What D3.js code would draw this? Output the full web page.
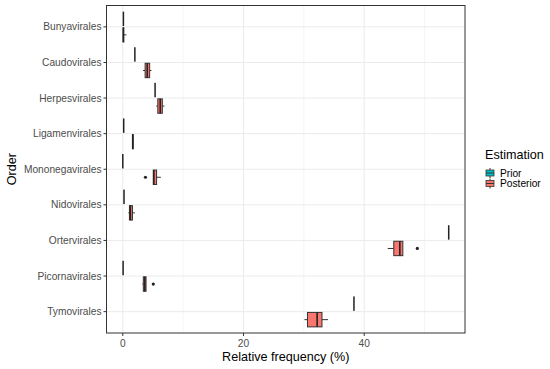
<!doctype html>
<html>
<head>
<meta charset="utf-8">
<style>
  body { margin: 0; background: #fff; }
  text { font-family: "Liberation Sans", Arial, sans-serif; }
</style>
</head>
<body>
<svg id="chart" width="550" height="369"></svg>
<script src="https://d3js.org/d3.v7.min.js"></script>
<script>
// orders, top to bottom
const orders = ["Bunyavirales", "Caudovirales", "Herpesvirales", "Ligamenvirales", "Mononegavirales",
  "Nidovirales", "Ortervirales", "Picornavirales", "Tymovirales"];

// prior estimate (single value per order, degenerate box)
const prior = [0.1, 2.0, 5.35, 0.15, 0.0, 0.2, 54.0, 0.05, 38.3];

// posterior box stats
const postLow = [0.05, 3.35, 5.55, 1.6, 5.05, 0.93, 43.9, 3.25, 30.1];
const postQ1 = [0.05, 3.7, 5.8, 1.6, 5.05, 1.1, 44.9, 3.4, 30.6];
const postMed = [0.1, 4.05, 6.2, 1.65, 5.15, 1.25, 45.9, 3.65, 32.2];
const postQ3 = [0.15, 4.45, 6.55, 1.72, 5.6, 1.6, 46.4, 3.85, 33.0];
const postHigh = [0.6, 4.75, 6.9, 1.75, 6.3, 2.0, 46.4, 3.85, 34.0];
const postOut = [[], [], [], [], [3.75], [], [48.8], [5.05], []];

const xTicks = [0, 20, 40];
const xMinor = [10, 30, 50];
const series = ["Prior", "Posterior"];
const colors = ["#00BFC4", "#F8766D"];

const margin = { top: 5.5, right: 85, bottom: 36, left: 106.5 };
const W = 550, H = 369;
const pw = W - margin.left - margin.right;
const ph = H - margin.top - margin.bottom;

const svg = d3.select("#chart");
const g = svg.append("g").attr("transform", "translate(" + margin.left + "," + margin.top + ")");

const x = d3.scaleLinear().domain([-2.7, 56.7]).range([0, pw]);
// discrete scale with ggplot's 0.6 expansion
const step = ph / (orders.length - 1 + 1.2);
const y = d => step * (0.6 + orders.indexOf(d));

// grid
g.selectAll(".minor").data(xMinor).join("line")
  .attr("x1", d => x(d)).attr("x2", d => x(d)).attr("y1", 0).attr("y2", ph)
  .attr("stroke", "#EBEBEB").attr("stroke-width", 0.5);
g.selectAll(".majorx").data(xTicks).join("line")
  .attr("x1", d => x(d)).attr("x2", d => x(d)).attr("y1", 0).attr("y2", ph)
  .attr("stroke", "#EBEBEB").attr("stroke-width", 1);
g.selectAll(".majory").data(orders).join("line")
  .attr("x1", 0).attr("x2", pw).attr("y1", d => y(d)).attr("y2", d => y(d))
  .attr("stroke", "#EBEBEB").attr("stroke-width", 1);

const boxH = step * 0.405;
const off = step * 0.225;

// prior boxes (degenerate)
g.selectAll(".prior").data(orders).join("rect")
  .attr("x", (d, i) => x(prior[i]) - 0.75)
  .attr("y", d => y(d) - off - boxH / 2)
  .attr("width", 1.5)
  .attr("height", boxH)
  .attr("fill", "#222");

// posterior boxes
const post = g.selectAll(".post").data(orders).join("g");
post.append("line")
  .attr("x1", (d, i) => x(postLow[i])).attr("x2", (d, i) => x(postQ1[i]))
  .attr("y1", d => y(d) + off).attr("y2", d => y(d) + off)
  .attr("stroke", "#333").attr("stroke-width", 1);
post.append("line")
  .attr("x1", (d, i) => x(postQ3[i])).attr("x2", (d, i) => x(postHigh[i]))
  .attr("y1", d => y(d) + off).attr("y2", d => y(d) + off)
  .attr("stroke", "#333").attr("stroke-width", 1);
post.append("rect")
  .attr("x", (d, i) => x(postQ1[i]))
  .attr("y", d => y(d) + off - boxH / 2)
  .attr("width", (d, i) => Math.max(0.5, x(postQ3[i]) - x(postQ1[i])))
  .attr("height", boxH)
  .attr("fill", colors[1]).attr("stroke", "#333").attr("stroke-width", 1);
post.append("line")
  .attr("x1", (d, i) => x(postMed[i])).attr("x2", (d, i) => x(postMed[i]))
  .attr("y1", d => y(d) + off - boxH / 2).attr("y2", d => y(d) + off + boxH / 2)
  .attr("stroke", "#222").attr("stroke-width", 1.6);
orders.forEach((o, i) => {
  postOut[i].forEach(v => {
    g.append("circle").attr("cx", x(v)).attr("cy", y(o) + off).attr("r", 1.6).attr("fill", "#222");
  });
});

// panel border
g.append("rect").attr("width", pw).attr("height", ph)
  .attr("fill", "none").attr("stroke", "#333").attr("stroke-width", 1);

// axes
orders.forEach(o => {
  g.append("line").attr("x1", -3).attr("x2", 0).attr("y1", y(o)).attr("y2", y(o))
    .attr("stroke", "#333");
  g.append("text").attr("x", -5).attr("y", y(o)).attr("dy", "0.35em")
    .attr("text-anchor", "end").attr("font-size", 10.2).attr("fill", "#4D4D4D").text(o);
});
xTicks.forEach(t => {
  g.append("line").attr("x1", x(t)).attr("x2", x(t)).attr("y1", ph).attr("y2", ph + 3)
    .attr("stroke", "#333");
  g.append("text").attr("x", x(t)).attr("y", ph + 13.5)
    .attr("text-anchor", "middle").attr("font-size", 10.2).attr("fill", "#4D4D4D").text(t);
});

svg.append("text").attr("x", margin.left + pw / 2).attr("y", 361)
  .attr("text-anchor", "middle").attr("font-size", 12.6).attr("fill", "#000")
  .text("Relative frequency (%)");
svg.append("text").attr("transform", "translate(16," + (margin.top + ph / 2) + ") rotate(-90)")
  .attr("text-anchor", "middle").attr("font-size", 12.6).attr("fill", "#000").text("Order");

// legend
const lg = svg.append("g").attr("transform", "translate(485,147)");
lg.append("text").attr("x", 0).attr("y", 12).attr("font-size", 12.6).text("Estimation");
series.forEach((s, i) => {
  const ky = 21 + i * 10.5;
  lg.append("line").attr("x1", 5).attr("x2", 5).attr("y1", ky).attr("y2", ky + 10).attr("stroke", "#333");
  lg.append("rect").attr("x", 1).attr("y", ky + 2).attr("width", 8).attr("height", 6)
    .attr("fill", colors[i]).attr("stroke", "#333").attr("stroke-width", 0.8);
  lg.append("line").attr("x1", 1).attr("x2", 9).attr("y1", ky + 5).attr("y2", ky + 5).attr("stroke", "#333");
  lg.append("text").attr("x", 15).attr("y", ky + 5).attr("dy", "0.35em").attr("font-size", 10.2).text(s);
});
</script>
</body>
</html>
